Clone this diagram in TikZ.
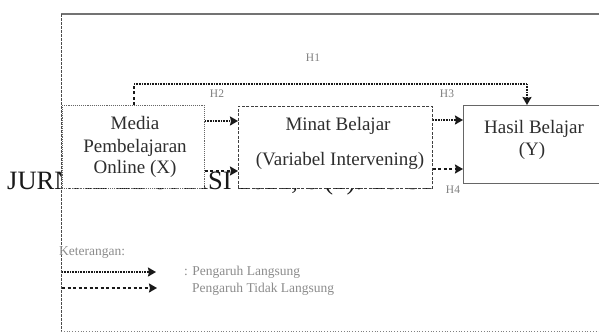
\documentclass[tikz,border=0pt]{standalone}
\usepackage{fontspec}
\setmainfont{Liberation Serif}
\usetikzlibrary{arrows.meta}
\begin{document}
\begin{tikzpicture}[x=1pt,y=-1pt,
  boxtext/.style={text=black!82, font=\fontsize{19}{22}\selectfont, inner sep=0pt, anchor=base},
  lbl/.style={text=black!50, font=\fontsize{11.5}{12}\selectfont, inner sep=0pt},
  leg/.style={text=black!45, font=\fontsize{13.5}{15}\selectfont, inner sep=0pt, anchor=west},
  dotline/.style={line width=1.8pt, dash pattern=on 1pt off 0.6pt, black!90},
  dashline/.style={line width=1.4pt, dash pattern=on 3pt off 2.5pt, black!90},
  tip/.style={-{Stealth[length=8pt,width=9pt,inset=1pt]}},
  boxbase/.style={fill=white, anchor=north west, inner sep=0pt},
]
\useasboundingbox (0,0) rectangle (599,333);
\fill[white] (0,0) rectangle (599,333);
% stray journal header behind the boxes
\node[anchor=base west, inner sep=0pt, font=\fontsize{26.5}{30}\selectfont, text=black!90] (hdr) at (7,189) {JURNAL EDUKASI 2021, 6 (2): 20-31};
% frame
\coordinate (ftl) at (61,14);
\coordinate (fbl) at (61,332);
\coordinate (ftr) at (599,14);
\coordinate (fbr) at (599,331.5);
\coordinate (fbm) at (61,331.5);
\draw[black!55, line width=1.2pt] (ftl) -- (ftr);
\draw[black!70, line width=1pt, dash pattern=on 3pt off 1pt] (ftl) -- (fbl);
\draw[black!50, line width=0.8pt, dotted] (fbm) -- (fbr);
% boxes
\node[boxbase, draw=black!60, line width=0.9pt, densely dotted, minimum width=142pt, minimum height=83pt] (X) at (62,105) {};
\node[boxbase, draw=black!75, line width=0.9pt, dash pattern=on 3pt off 1.5pt, minimum width=194pt, minimum height=82pt] (M) at (238,106) {};
\node[boxbase, draw=black!60, line width=1pt, minimum width=135.5pt, minimum height=78pt] (Y) at (463,105) {};
% box texts
\node[boxtext] (x1) at (135,129) {Media};
\node[boxtext] (x2) at (135,152) {Pembelajaran};
\node[boxtext] (x3) at (135,173) {Online (X)};
\node[boxtext] (m1) at (338,130) {Minat Belajar};
\node[boxtext] (m2) at (340,165) {(Variabel Intervening)};
\node[boxtext] (y1) at (534,133) {Hasil Belajar};
\node[boxtext] (y2) at (532,155) {(Y)};
% helper coordinates
\coordinate (h1a) at (134,84);
\coordinate (h1b) at (527,84);
\coordinate (y121) at (0,121);
\coordinate (y120) at (0,120);
\coordinate (y169) at (0,169);
\coordinate (y171) at (0,171);
% connectors
\draw[dashline] (X.north -| h1a) -- (h1a);
\draw[dotline] (h1a) -- (h1b);
\draw[dotline, tip] (h1b) -- (Y.north -| h1b);
\draw[dotline, tip] (X.east |- y121) -- (M.west |- y121);
\draw[dashline, tip] (X.east |- y171) -- (M.west |- y171);
\draw[dotline, tip] (M.east |- y120) -- (Y.west |- y120);
\draw[dashline, tip] (M.east |- y169) -- (Y.west |- y169);
% labels
\node[lbl] (h1) at (313,58) {H1};
\node[lbl] (h2) at (217,94) {H2};
\node[lbl] (h3) at (447,94) {H3};
\node[lbl] (h4) at (453,190) {H4};
% legend
\node[leg] (ket) at (59,253) {Keterangan:};
\coordinate (l1a) at (62,272);
\coordinate (l1b) at (156,272);
\coordinate (l2a) at (62,288);
\coordinate (l2b) at (157,288);
\draw[dotline, line width=2.2pt, tip] (l1a) -- (l1b);
\draw[dashline, line width=1.8pt, tip] (l2a) -- (l2b);
\node[leg] (lg1) at (184,272) {: Pengaruh Langsung};
\node[leg] (lg2) at (192,289) {Pengaruh Tidak Langsung};
\end{tikzpicture}
\end{document}
